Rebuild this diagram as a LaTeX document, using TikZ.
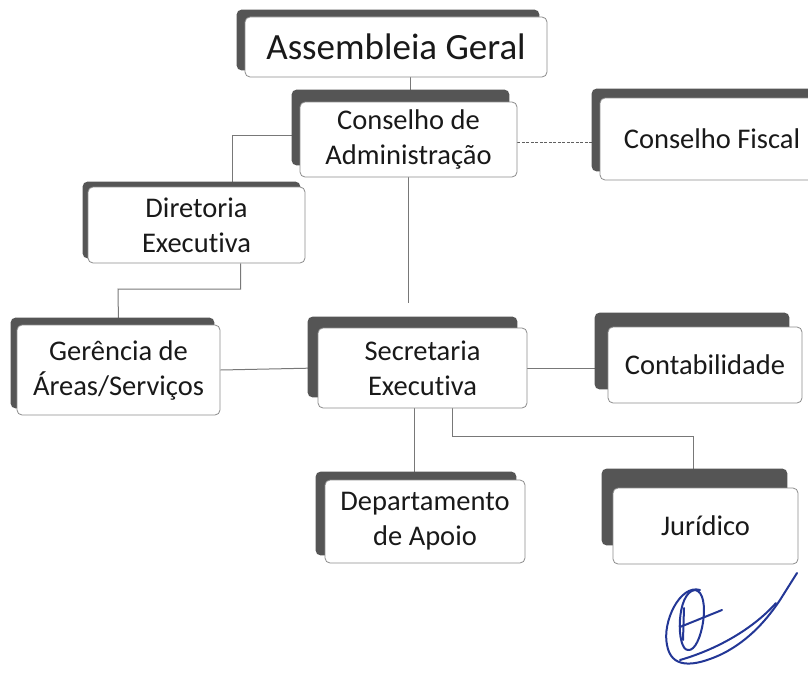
\documentclass[tikz,border=0pt]{standalone}
\usepackage{fontspec}
\setmainfont{Carlito}[Ligatures={NoCommon}]
\usetikzlibrary{backgrounds,calc}
\definecolor{shadowgray}{RGB}{85,85,85}
\definecolor{linegray}{RGB}{120,120,120}
\definecolor{boxline}{RGB}{140,140,140}
\definecolor{inkblue}{RGB}{35,55,150}
\tikzset{
  wbox/.style={draw=boxline, line width=0.8pt, fill=white, rounded corners=5pt,
    inner sep=0pt, align=center, text=black!90,
    font=\fontsize{28.5}{35}\selectfont},
  shadowfill/.style={fill=shadowgray, rounded corners=5pt},
  conn/.style={draw=linegray, line width=1pt},
  dconn/.style={draw=linegray!80!black, line width=1.2pt, dash pattern=on 3pt off 1.5pt},
  ink/.style={draw=inkblue, line width=2pt, line cap=round, line join=round}
}
\newcommand{\shadowof}[3]{\path[shadowfill] ([shift={(#2,#3)}]#1.north west) rectangle ([shift={(#2,#3)}]#1.south east);}
\begin{document}
\begin{tikzpicture}[x=1pt,y=-1pt]
\useasboundingbox (0,0) rectangle (808,677);
% boxes
\node[wbox, minimum width=302pt, minimum height=60pt, font=\fontsize{37}{44}\selectfont] (AG) at (396,47) {Assembleia Geral};
\node[wbox, minimum width=217pt, minimum height=75pt] (CA) at (408.5,139.5) {Conselho de\\Administração};
\node[wbox, minimum width=224pt, minimum height=82pt] (CF) at (712,139) {Conselho Fiscal};
\node[wbox, minimum width=217pt, minimum height=76pt] (DE) at (196.5,225) {Diretoria\\Executiva};
\node[wbox, minimum width=203pt, minimum height=90pt] (GA) at (118.5,370) {Gerência de\\Áreas/Serviços};
\node[wbox, minimum width=209pt, minimum height=80pt] (SE) at (422.5,368) {Secretaria\\Executiva};
\node[wbox, minimum width=194pt, minimum height=76pt] (CO) at (705,365) {Contabilidade};
\node[wbox, minimum width=200pt, minimum height=83pt] (DA) at (425,521.5) {Departamento\\de Apoio};
\node[wbox, minimum width=185pt, minimum height=76pt] (JU) at (705.5,526) {Jurídico};
% helper coordinates
\coordinate (m1) at (118,289);
\coordinate (m2) at (693,436);
\coordinate (caEnd) at (408,303);
\begin{scope}[on background layer]
  % connectors
  \draw[conn] (AG.south -| 410,0) -- (CA.north -| 410,0);
  \draw[dconn] ([yshift=-3pt]CA.east) -- ([yshift=-3pt]CA.east -| CF.west);
  \draw[conn] ([yshift=4pt]CA.west) -| ([xshift=36pt]DE.north);
  \draw[conn] ([xshift=44pt]DE.south) |- (m1) -- (GA.north);
  \draw[conn] (GA.east) -- (SE.west);
  \draw[conn] (CA.south -| caEnd) -- (caEnd);
  \draw[conn] (SE.east) -- (SE.east -| CO.west);
  \draw[conn] ([xshift=-8pt]SE.south) -- ([xshift=-8pt]SE.south |- DA.north);
  \draw[conn] ([xshift=30pt]SE.south) |- (m2) -- (m2 |- JU.north);
  % shadows
  \shadowof{AG}{-8}{-7}
  \shadowof{CA}{-8}{-12}
  \shadowof{CF}{-8}{-9}
  \shadowof{DE}{-5}{-5}
  \shadowof{GA}{-6}{-7}
  \shadowof{SE}{-10}{-11}
  \shadowof{CO}{-13}{-14}
  \shadowof{DA}{-9}{-8}
  \shadowof{JU}{-11}{-19}
\end{scope}
% signature
\draw[ink] (695,590) .. controls (676,592) and (676,650) .. (688,650) .. controls (702,652) and (712,592) .. (695,590);
\draw[ink] (700,590) .. controls (680,584) and (662,622) .. (667,645) .. controls (671,668) and (692,668) .. (722,654) .. controls (750,640) and (768,618) .. (780,600) -- (797,573);
\draw[ink] (680,660) .. controls (715,650) and (752,630) .. (776,603);
\draw[ink] (680,627) -- (722,610);
\draw[ink] (684,608) -- (683,640);
\end{tikzpicture}
\end{document}
